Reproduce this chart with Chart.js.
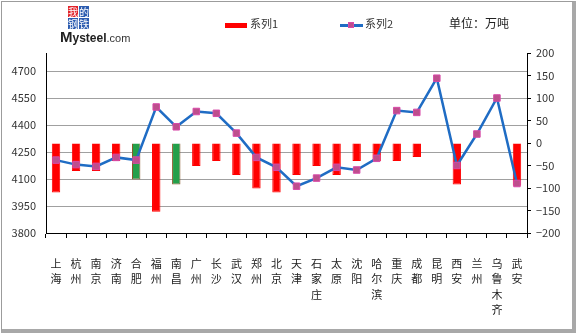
<!DOCTYPE html>
<html>
<head>
<meta charset="utf-8">
<script src="https://cdn.jsdelivr.net/npm/chart.js@4"></script>
<style>
  html, body { margin: 0; padding: 0; background: #fff; }
  .wrap { position: relative; width: 576px; height: 333px; overflow: hidden; font-family: 'Noto Sans CJK SC', 'DejaVu Sans', sans-serif; }
  #chart { position: absolute; left: 0; top: 0; }
  .frame { position: absolute; left: 1px; top: 1px; width: 575px; height: 332px; box-sizing: border-box;
           border-left: 1px solid #9c9c9c; border-top: 1px solid #9c9c9c;
           border-right: 4px solid #a8a8a8; border-bottom: 4px solid #a8a8a8; pointer-events: none; }
  .logo { position: absolute; left: 68px; top: 6px; width: 22px; }
  .logo span { float: left; width: 10px; height: 11px; margin: 0 1px 1px 0; color: #fff; font-size: 10px; line-height: 11px; text-align: center; background: #2c5cb0; }
  .logo span.red { background: #e2232a; }
  .brand { position: absolute; left: 60px; top: 28px; color: #222; font-family: 'Liberation Sans', Arial, sans-serif; white-space: nowrap; }
  .brand b { font-size: 12px; }
  .brand b.big { font-size: 15px; }
  .brand i { font-style: normal; font-size: 11px; color: #333; }
  .legend { position: absolute; top: 15px; font-size: 11px; color: #333; line-height: 16px; white-space: nowrap; }
  .sw-bar { display: inline-block; width: 22px; height: 5px; background: #ff0000; vertical-align: middle; margin-right: 3px; }
  .sw-line { display: inline-block; position: relative; width: 23px; height: 3px; background: #1f6cc4; vertical-align: middle; margin-right: 2px; }
  .sw-line::after { content: ''; position: absolute; left: 8px; top: -2px; width: 6px; height: 6px; background: #bd4f8c; border: 1px solid #d84aa8; box-sizing: border-box; }
  .unit { position: absolute; left: 449px; top: 14px; font-size: 12px; color: #222; }
</style>
</head>
<body>
<div class="wrap">
  <canvas id="chart" width="576" height="333"></canvas>
  <div class="logo"><span class="red">我</span><span>的</span><span>钢</span><span>铁</span></div>
  <div class="brand"><b class="big">M</b><b>ysteel</b><i>.com</i></div>
  <div class="legend" style="left:225px"><span class="sw-bar"></span>系列1</div>
  <div class="legend" style="left:340px"><span class="sw-line"></span>系列2</div>
  <div class="unit">单位：万吨</div>
  <div class="frame"></div>
</div>
<script>
const cities = ['上海', '杭州', '南京', '济南', '合肥', '福州', '南昌', '广州', '长沙', '武汉', '郑州', '北京',
  '天津', '石家庄', '太原', '沈阳', '哈尔滨', '重庆', '成都', '昆明', '西安', '兰州', '乌鲁木齐', '武安'];

// 系列1: bars on the right axis
const series1 = [-110, -62, -62, -40, -81, -153, -92, -51, -40, -71, -101, -110,
  -71, -51, -71, -40, -40, -40, -31, 0, -92, 0, 0, -95];

// 系列2: line on the left axis
const series2 = [4205, 4180, 4170, 4220, 4205, 4500, 4390, 4475, 4465, 4355, 4220, 4165,
  4060, 4105, 4165, 4150, 4215, 4480, 4470, 4660, 4175, 4350, 4550, 4075];

const leftTicks = [3800, 3950, 4100, 4250, 4400, 4550, 4700];
const rightTicks = [-200, -150, -100, -50, 0, 50, 100, 150, 200];

// cities whose bar is shown in green
const greenCities = ['合肥', '南昌'];

const FONT = "'Noto Sans CJK SC', 'DejaVu Sans', sans-serif";
const tickFont = { family: FONT, size: 11 };

const barFill = cities.map(c => greenCities.includes(c) ? '#23a04a' : '#ff0000');
const barEdge = cities.map(c => greenCities.includes(c) ? '#8a5a2c' : '#ff0000');

new Chart(document.getElementById('chart'), {
  data: {
    labels: cities.map(c => c.split('')),
    datasets: [
      {
        type: 'bar',
        label: '系列1',
        data: series1,
        yAxisID: 'y1',
        backgroundColor: barFill,
        borderColor: barEdge,
        borderWidth: 1,
        barPercentage: 0.42,
        categoryPercentage: 1,
        order: 2
      },
      {
        type: 'line',
        label: '系列2',
        data: series2,
        yAxisID: 'y',
        borderColor: '#1f6cc4',
        borderWidth: 2.5,
        tension: 0,
        pointStyle: 'rect',
        pointRadius: 4.6,
        pointBackgroundColor: '#bd4f8c',
        pointBorderColor: '#d84aa8',
        pointBorderWidth: 1,
        order: 1
      }
    ]
  },
  options: {
    responsive: false,
    animation: false,
    layout: { padding: { left: 0, right: 0, top: 53, bottom: 0 } },
    plugins: { legend: { display: false }, tooltip: { enabled: false } },
    scales: {
      x: {
        grid: { offset: true, drawOnChartArea: false, tickLength: 5, color: '#000' },
        border: { color: '#000', width: 1 },
        ticks: { autoSkip: false, maxRotation: 0, minRotation: 0, padding: 18, color: '#222',
                 font: { family: FONT, size: 11, lineHeight: 1.4 } },
        afterFit: s => { s.height = 100; }
      },
      y: {
        position: 'left',
        min: 3800,
        max: 4800,
        afterBuildTicks: s => { s.ticks = leftTicks.map(v => ({ value: v })); },
        grid: { color: '#a0a0a0', drawTicks: false },
        border: { color: '#000', width: 1 },
        ticks: { padding: 10, color: '#333', font: tickFont, callback: v => String(v) },
        afterFit: s => { s.width = 46; }
      },
      y1: {
        position: 'right',
        min: -200,
        max: 200,
        afterBuildTicks: s => { s.ticks = rightTicks.map(v => ({ value: v })); },
        grid: { drawOnChartArea: false, tickLength: 4, color: '#000' },
        border: { color: '#000', width: 1 },
        ticks: { padding: 5, color: '#333', font: tickFont,
                 callback: v => v < 0 ? '\u2212' + Math.abs(v) : String(v) },
        afterFit: s => { s.width = 49; }
      }
    }
  }
});
</script>
</body>
</html>
